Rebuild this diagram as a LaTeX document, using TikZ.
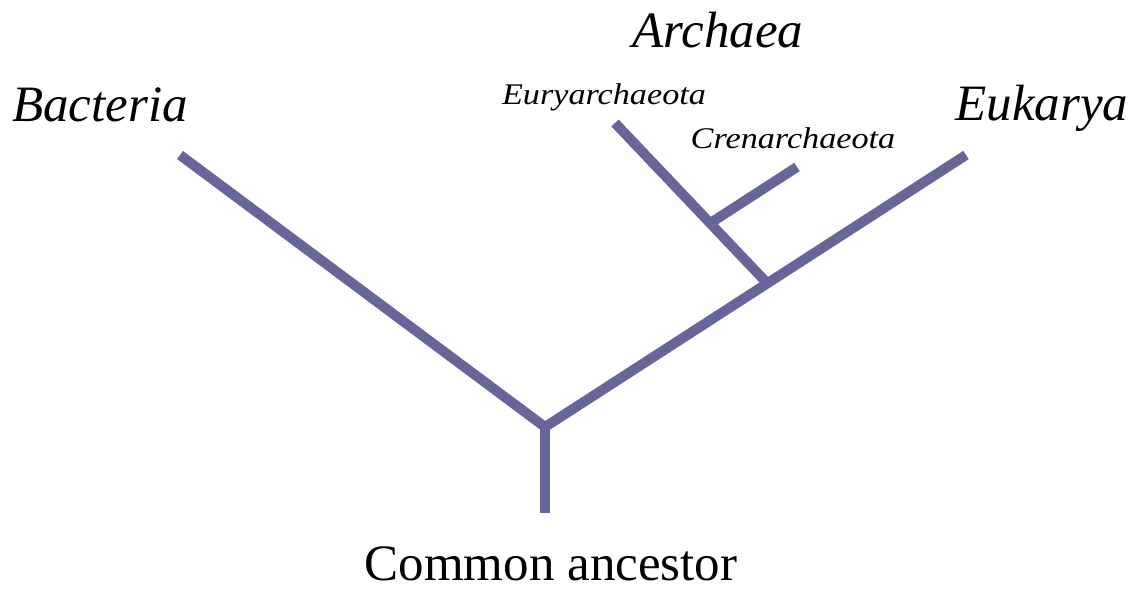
\documentclass[tikz,border=0pt]{standalone}
\usepackage{fontspec}
\setmainfont{Liberation Serif}
\newfontfamily\widefont[FakeStretch=1.14]{Liberation Serif}
\definecolor{branch}{RGB}{102,102,153}
\tikzset{
  branchline/.style={draw=branch, line width=10pt, line cap=butt, line join=miter},
  biglabel/.style={anchor=base, inner sep=0pt, font=\fontsize{51}{51}\selectfont\itshape},
  smalllabel/.style={anchor=base, inner sep=0pt, font=\widefont\fontsize{30}{30}\selectfont\itshape},
  rootlabel/.style={anchor=base, inner sep=0pt, font=\fontsize{51}{51}\selectfont}
}
\begin{document}
\begin{tikzpicture}[x=1pt,y=-1pt]
\useasboundingbox (0,0) rectangle (1138,589);
\coordinate (root) at (545,427);
\coordinate (base) at (545,513);
\coordinate (bac) at (180,155);
\coordinate (euk) at (966,155);
\coordinate (arc) at (766,282);
\coordinate (eury) at (615,123);
\coordinate (crenj) at (712,222);
\coordinate (cren) at (797,167);
\draw[branchline] (bac) -- (root) -- (euk);
\draw[branchline] (root) -- (base);
\draw[branchline] (arc) -- (eury);
\draw[branchline] (crenj) -- (cren);
\node[biglabel] (lbac) at (100,121) {Bacteria};
\node[biglabel] (leuk) at (1042,120) {Eukarya};
\node[biglabel] (larc) at (718,47) {Archaea};
\node[smalllabel] (leury) at (604,104) {Euryarchaeota};
\node[smalllabel] (lcren) at (793,148) {Crenarchaeota};
\node[rootlabel] (lroot) at (551,580) {Common ancestor};
\end{tikzpicture}
\end{document}
